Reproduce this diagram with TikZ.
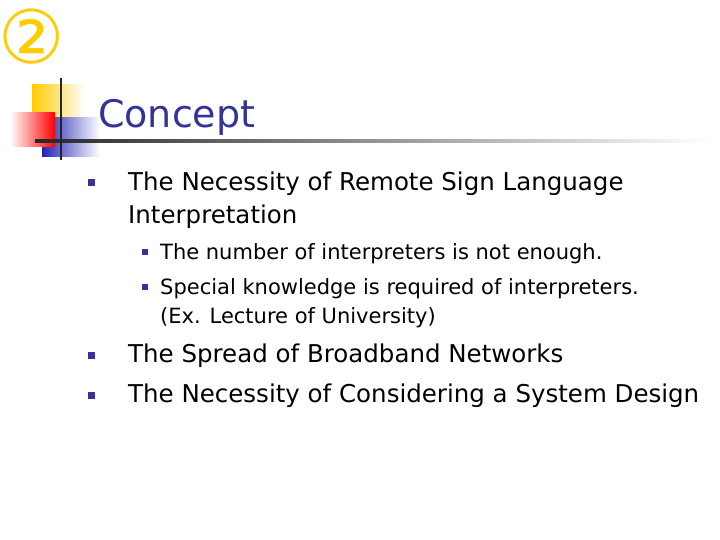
\documentclass[tikz,border=0pt]{standalone}
\usepackage{fontspec}
\setmainfont{DejaVu Sans}
\definecolor{ttl}{HTML}{333399}
\definecolor{gold}{HTML}{FFCC00}
\begin{document}
\begin{tikzpicture}[x=1pt,y=-1pt,
  lone/.style={anchor=base west,font=\fontsize{24.5}{28}\selectfont,inner sep=0},
  ltwo/.style={anchor=base west,font=\fontsize{21}{23}\selectfont,inner sep=0},
  bul/.style={fill=ttl,minimum size=7pt,inner sep=0}]
\useasboundingbox (0,0) rectangle (720,540);
\node[anchor=center,text=gold,font=\fontsize{74}{74}\selectfont] (num) at (32,37) {②};
\shade[left color=gold,right color=white] (32,85) rectangle (85,118);
\shade[left color=ttl!70!blue,right color=white] (42,118) rectangle (100,157);
\shade[left color=white,right color=red] (10,113) rectangle (55,147);
\shade[left color=black!85,right color=white] (35,140) rectangle (710,142.5);
\draw[line width=2pt,black!85] (61,78) -- (61,160);
\node[anchor=base west,inner sep=0,text=ttl,font=\fontsize{38}{44}\selectfont] (title) at (98,128) {Concept};
\node[bul] (b1) at (91,183) {};
\node[lone] (t1) at (128,191) {The Necessity of Remote Sign Language};
\node[lone] (t1b) at (128,223) {Interpretation};
\node[bul,minimum size=6pt] (s1) at (145,252) {};
\node[ltwo] (u1) at (160,259) {The number of interpreters is not enough.};
\node[bul,minimum size=6pt] (s2) at (145,287) {};
\node[ltwo] (u2) at (160,294) {Special knowledge is required of interpreters.};
\node[ltwo] (u3) at (160,323) {(Ex. Lecture of University)};
\node[bul] (b2) at (91,355) {};
\node[lone] (t2) at (128,362) {The Spread of Broadband Networks};
\node[bul] (b3) at (91,395) {};
\node[lone] (t3) at (128,402) {The Necessity of Considering a System Design};
\end{tikzpicture}
\end{document}
